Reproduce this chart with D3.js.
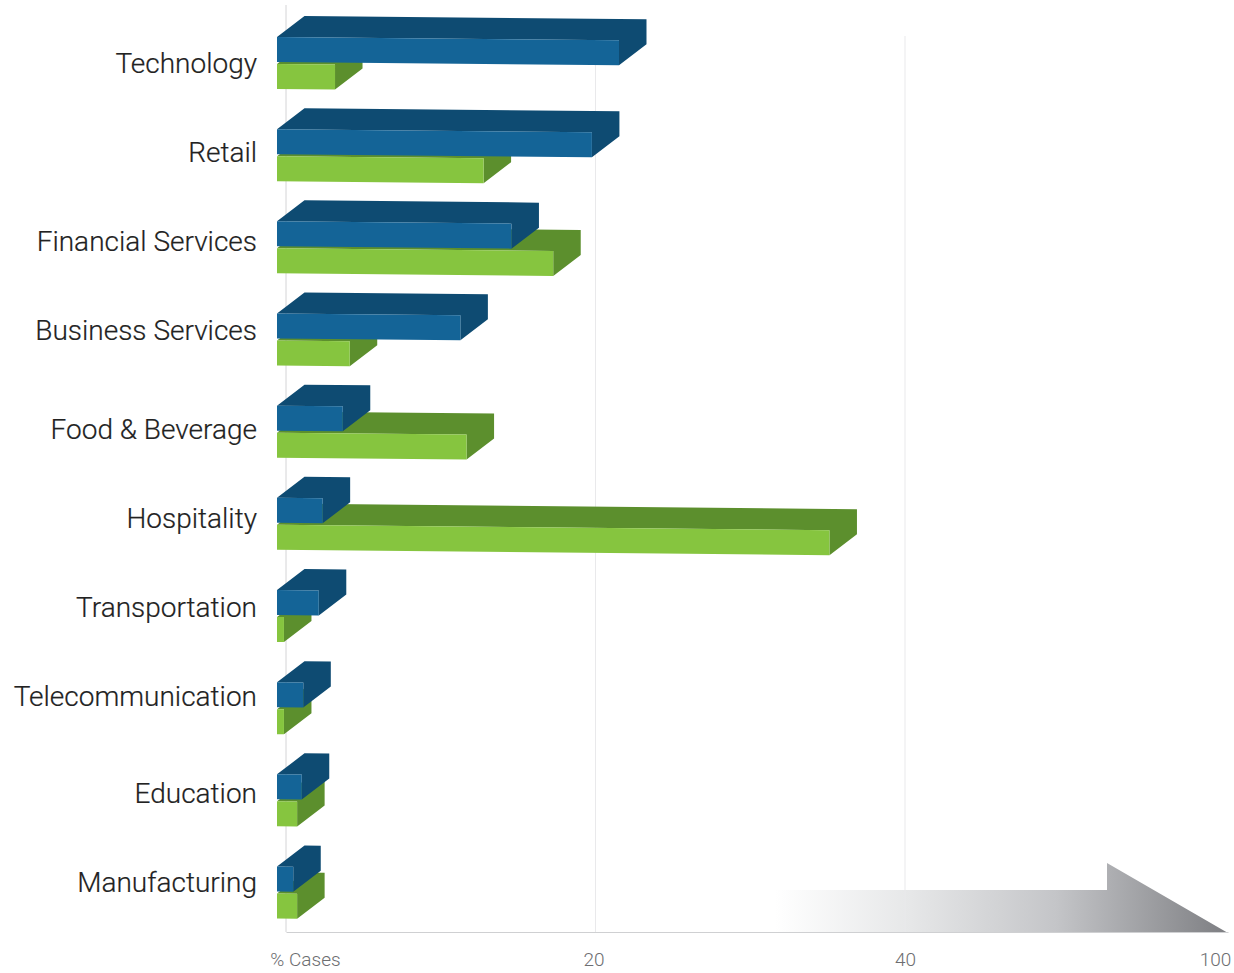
<!DOCTYPE html>
<html>
<head>
<meta charset="utf-8">
<script src="https://cdn.jsdelivr.net/npm/d3@7"></script>
<style>
  html, body { margin: 0; padding: 0; background: #fff; }
  svg { display: block; }
  .cat { font-family: "Roboto", sans-serif; font-weight: 300; font-size: 28px; fill: #222; stroke: #222; stroke-width: 0.2px; }
  .tick text { font-family: "Roboto", sans-serif; font-weight: 300; font-size: 19px; fill: #6d6e71; }
</style>
</head>
<body>
<svg id="chart" width="1234" height="973"></svg>
<script>
// Industry breakdown of cases, two series per sector.
const categories = ["Technology", "Retail", "Financial Services", "Business Services",
  "Food & Beverage", "Hospitality", "Transportation", "Telecommunication", "Education", "Manufacturing"];
const blueValues = [22.1, 20.35, 15.15, 11.85, 4.25, 2.95, 2.7, 1.7, 1.6, 1.05];
const greenValues = [3.75, 13.35, 17.85, 4.7, 12.25, 35.7, 0.45, 0.45, 1.3, 1.3];
const tickValues = [0, 20, 40, 100];
const tickLabels = ["% Cases", "20", "40", "100"];

// Layout of the plot and its extruded bars.
const axisY = 932, gridTop = 36, zeroTop = 5;
const barLeft = 277, barHeight = 25, greenOffset = 27;
const depthX = 27.5, depthY = -21, skew = 0.0098;
const labelRight = 257;
const labelCentres = [63, 152, 241, 330, 429, 518, 607, 696, 793, 882];

const svg = d3.select("#chart");

// The last axis stretch is compressed, so the scale is piecewise.
const x = d3.scaleLinear().domain(tickValues).range([286, 595.5, 905, 1228]);
const barWidth = v => x(v) - x(0);
const rowY = d3.scalePoint().domain(categories).range([37, 866.5]);

// Fading arrow along the bottom of the chart.
const defs = svg.append("defs");
const grad = defs.append("linearGradient").attr("id", "arrowFade")
  .attr("gradientUnits", "userSpaceOnUse")
  .attr("x1", 775).attr("x2", 1228).attr("y1", 0).attr("y2", 0);
grad.append("stop").attr("offset", 0).attr("stop-color", "#e6e7e8").attr("stop-opacity", 0);
grad.append("stop").attr("offset", 0.3).attr("stop-color", "#e6e7e8").attr("stop-opacity", 1);
grad.append("stop").attr("offset", 0.62).attr("stop-color", "#c4c5c8");
grad.append("stop").attr("offset", 1).attr("stop-color", "#7d7e82");

svg.append("path")
  .attr("d", d3.line()([[775, 890], [1107, 890], [1107, 863], [1228, 933], [775, 933]]) + "Z")
  .attr("fill", "url(#arrowFade)");

// Vertical grid lines.
svg.append("g").selectAll("line").data(tickValues.slice(0, 3)).join("line")
  .attr("x1", d => x(d)).attr("x2", d => x(d))
  .attr("y1", d => d === 0 ? zeroTop : gridTop).attr("y2", axisY)
  .attr("stroke", d => d === 0 ? "#d4d4d6" : "#e9e9eb")
  .attr("stroke-width", 1);

// Bottom axis.
const axis = d3.axisBottom(x).tickValues(tickValues)
  .tickFormat((d, i) => tickLabels[i]).tickSize(0).tickPadding(21);
const axisG = svg.append("g").attr("transform", `translate(0,${axisY})`).call(axis);
axisG.select(".domain").attr("stroke", "#cfd0d2").attr("stroke-width", 1.2);
axisG.selectAll(".tick text")
  .attr("text-anchor", "middle")
  .attr("dx", (d, i) => [19, -2, 0, -13][i]);

// One extruded bar: a single outline for the top and side, then the front face on it.
function drawBar(g, top, value, front, shade) {
  const w = barWidth(value);
  const l = barLeft, r = barLeft + w;
  const drop = w * skew;
  const line = d3.line();
  g.append("path").attr("fill", shade).attr("d", line([
    [l, top], [l + depthX, top + depthY], [r + depthX, top + depthY + drop],
    [r + depthX, top + depthY + drop + barHeight], [r, top + drop + barHeight], [r, top + drop]]) + "Z");
  g.append("path").attr("fill", front).attr("d", line([
    [l, top], [r, top + drop], [r, top + drop + barHeight], [l, top + barHeight]]) + "Z");
}

// Green bars sit behind the blue ones in every row.
const greenLayer = svg.append("g");
const blueLayer = svg.append("g");
categories.forEach((c, i) => {
  drawBar(greenLayer, rowY(c) + greenOffset, greenValues[i], "#86c53f", "#5c8f2d");
  drawBar(blueLayer, rowY(c), blueValues[i], "#146497", "#0e4b72");
});

// Sector names.
svg.append("g").selectAll("text").data(categories).join("text")
  .attr("class", "cat")
  .attr("x", labelRight)
  .attr("y", (d, i) => labelCentres[i])
  .attr("dy", "0.35em")
  .attr("text-anchor", "end")
  .text(d => d);
</script>
</body>
</html>
